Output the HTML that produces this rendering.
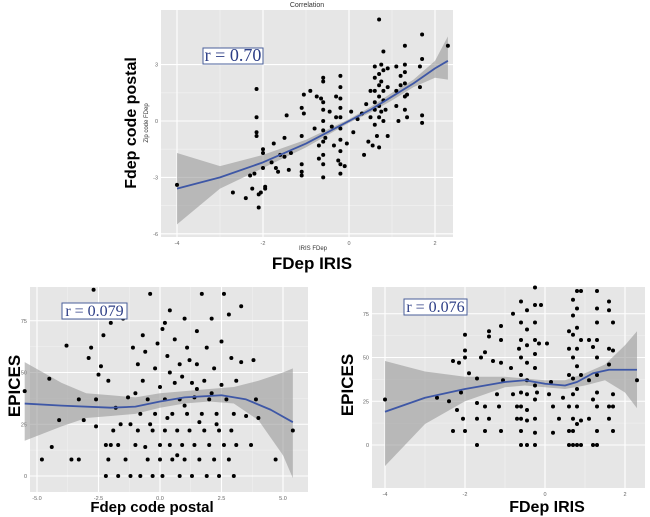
<!DOCTYPE html>
<html><head><meta charset="utf-8"><style>
body{margin:0;background:#fff;width:650px;height:517px;overflow:hidden}
svg{display:block}
text{font-family:"Liberation Sans",sans-serif}
text.serif{font-family:"Liberation Serif",serif}
</style></head><body>
<svg id="chart" width="650" height="517" viewBox="0 0 650 517" xmlns="http://www.w3.org/2000/svg"></svg>
<script>
// ---- Panel 1: Zip code FDep vs IRIS FDep
const p1X=[-4,-2.7,-2.4,-2.3,-2.25,-2.2,-2.15,-2.15,-2.15,-2.15,-2.1,-2.1,-2.05,-2,-2,-2,-1.95,-1.95,-1.8,-1.75,-1.7,-1.65,-1.6,-1.5,-1.5,-1.45,-1.4,-1.35,-1.1,-1.1,-1.1,-1.1,-1.1,-1.05,-1.05,-0.9,-0.8,-0.75,-0.7,-0.7,-0.65,-0.6,-0.6,-0.6,-0.6,-0.6,-0.6,-0.6,-0.6,-0.6,-0.6,-0.55,-0.45,-0.4,-0.35,-0.3,-0.3,-0.25,-0.2,-0.2,-0.2,-0.2,-0.2,-0.2,-0.2,-0.2,-0.2,-0.2,-0.1,-0.05,0.05,0.1,0.2,0.3,0.35,0.4,0.45,0.5,0.5,0.55,0.6,0.6,0.6,0.6,0.6,0.6,0.65,0.7,0.7,0.7,0.7,0.7,0.7,0.7,0.75,0.75,0.75,0.8,0.8,0.8,0.8,0.8,0.85,0.9,0.9,0.9,1.1,1.1,1.1,1.15,1.2,1.2,1.3,1.3,1.3,1.3,1.3,1.3,1.35,1.35,1.65,1.65,1.7,1.7,1.7,1.7,2.3];
const p1Y=[-3.4,-3.8,-4.1,-2.9,-3.6,-2.8,1.7,0.2,-0.6,-0.8,-3.9,-4.6,-3.8,-1.5,-1.7,-2.5,-3.5,-3.6,-2.2,-1.2,-2.5,-2.7,-1.8,-0.9,-1.9,0.3,-2.6,-1.7,0.7,-0.8,-2.3,-2.7,-2.9,1.4,0.4,1.6,-0.4,1.3,-1.3,-2.0,1.2,2.3,2.1,1.0,0.6,0.0,-0.5,-1.1,-1.8,-2.3,-3.0,-0.9,0.5,-0.3,-1.3,1.3,0.2,-2.1,2.4,1.8,1.2,0.7,0.2,-0.4,-1.0,-1.6,-2.3,-2.8,-2.4,-1.2,0.5,-0.6,0.1,0.4,-1.8,0.9,-1.1,0.2,1.6,-1.3,2.9,2.3,1.6,1.0,0.6,-0.2,-0.8,5.4,2.5,1.9,1.3,0.8,0.2,-1.4,3.0,2.1,0.5,3.7,2.7,1.6,1.1,0.0,0.6,2.8,1.8,-0.8,2.9,1.6,0.8,0.0,2.4,1.9,4.0,3.0,2.6,2.0,1.3,0.6,0.2,1.4,2.9,1.8,4.6,3.3,0.3,-0.1,4.0];
const p1FitX=[-4,-3,-2,-1,0,0.5,1,1.5,2,2.3];
const p1Fit=[-3.6,-3.0,-2.2,-1.2,0,0.6,1.3,2.0,2.8,3.2];
const p1Up=[-1.7,-2.4,-1.8,-1.0,0.1,0.75,1.5,2.2,3.2,4.5];
const p1Lo=[-5.5,-3.6,-2.5,-1.4,-0.1,0.45,1.1,1.8,2.3,2.2];
const p1XTicks=[-4,-2,0,2], p1XLab=["-4","-2","0","2"];
const p1YTicks=[-6,-3,0,3], p1YLab=["-6","-3","0","3"];

// ---- Panel 2: EPICES vs Fdep code postal
const p2X=[-5.5,-4.8,-4.5,-4.4,-4.1,-3.8,-3.6,-3.3,-3.1,-2.9,-2.8,-2.7,-2.6,-2.5,-2.4,-2.3,-2.2,-2.2,-2.1,-2.1,-2.0,-1.9,-1.7,-1.7,-1.6,-1.5,-1.4,-1.2,-1.2,-1.1,-1.0,-0.9,-0.9,-0.8,-0.8,-0.7,-0.7,-0.6,-0.5,-0.5,-0.4,-0.3,-0.3,-0.2,-0.2,-0.1,0,0,0,0.1,0.1,0.2,0.2,0.3,0.4,0.4,0.5,0.5,0.6,0.6,0.7,0.8,0.8,0.8,0.9,1.0,1.0,1.1,1.1,1.2,1.3,1.3,1.4,1.4,1.5,1.5,1.6,1.7,1.7,1.8,1.8,1.9,1.9,2.0,2.0,2.1,2.2,2.2,2.3,2.4,2.4,2.5,2.5,2.6,2.6,2.7,2.8,2.8,2.9,3.0,3.0,3.1,3.1,3.3,3.3,3.5,3.7,3.8,3.9,4.0,4.7,5.4,-0.4,0.3,0.9,1.2,-1.3,-1.8,0.7,1.6,2.1,-0.6,0.4,1.0,2.3,-1.0,0.2,1.5,2.9,-2.0,-3.3,-2.6];
const p2Y=[41,8,47,14,27,63,8,37,27,57,62,90,24,49,53,68,0,15,8,46,74,22,0,15,25,76,8,0,25,62,15,22,54,0,30,68,46,14,8,37,88,0,22,52,30,64,15,8,43,71,0,22,37,58,80,15,30,8,45,66,22,0,37,54,15,76,8,30,62,22,0,45,15,38,70,54,8,30,88,22,46,0,62,15,37,76,8,52,30,0,22,65,44,88,15,37,78,8,57,0,30,46,15,82,55,29,15,56,37,28,8,22,25,28,48,56,38,33,10,26,40,60,50,34,25,40,74,42,22,15,8,37];
const p2FitX=[-5.5,-4,-2,-1,0,1,2.5,3.5,4.5,5.4];
const p2Fit=[35,34,33,33.5,36,38,39,37,32,26];
const p2UpX=[-5.5,-4,-3,-2,-1,0,1,2,3,4,5,5.4];
const p2Up=[55,45,40,39,38,40,41,42,43,46,50,52];
const p2Lo=[17,24,28,29,30,33,35,36,35,27,10,-1];
const p2XTicks=[-5,-2.5,0,2.5,5], p2XLab=["-5.0","-2.5","0.0","2.5","5.0"];
const p2YTicks=[0,25,50,75], p2YLab=["0","25","50","75"];

// ---- Panel 3: EPICES vs FDep IRIS
const p3X=[-4,-2.7,-2.4,-2.3,-2.3,-2.2,-2.15,-2.1,-2.05,-2.0,-2.0,-2.0,-2.0,-1.9,-1.7,-1.7,-1.7,-1.7,-1.6,-1.5,-1.5,-1.5,-1.4,-1.4,-1.4,-1.3,-1.2,-1.15,-1.1,-1.1,-1.1,-1.1,-1.05,-0.85,-0.8,-0.8,-0.7,-0.7,-0.65,-0.6,-0.6,-0.6,-0.6,-0.6,-0.6,-0.6,-0.6,-0.6,-0.6,-0.45,-0.45,-0.45,-0.45,-0.45,-0.45,-0.45,-0.45,-0.45,-0.25,-0.25,-0.25,-0.25,-0.25,-0.25,-0.25,-0.25,-0.25,-0.25,-0.25,-0.1,-0.15,-0.2,0.05,0.1,0.15,0.2,0.2,0.35,0.45,0.6,0.6,0.6,0.6,0.6,0.6,0.7,0.7,0.7,0.7,0.7,0.7,0.7,0.7,0.7,0.8,0.8,0.8,0.8,0.8,0.8,0.8,0.8,0.8,0.9,0.9,0.9,0.9,0.9,1.1,1.1,1.1,1.2,1.2,1.2,1.3,1.3,1.3,1.3,1.3,1.3,1.3,1.3,1.3,1.3,1.6,1.6,1.6,1.6,1.6,1.6,1.7,1.7,1.7,1.7,1.7,2.3];
const p3Y=[26,27,25,48,8,20,47,30,15,63,54,50,8,41,0,38,24,15,50,53,22,8,65,62,15,48,29,22,68,60,47,8,37,44,75,29,22,15,55,82,70,60,50,40,30,22,15,8,0,77,66,57,47,37,29,20,14,0,90,80,70,60,52,44,34,26,15,7,0,80,58,30,58,29,36,22,7,15,27,65,55,40,22,8,0,83,74,63,50,38,29,15,8,0,88,78,67,55,45,32,22,12,0,88,60,40,14,0,60,37,15,56,26,0,88,78,70,60,50,40,30,22,8,0,82,77,55,46,22,15,70,54,29,22,8,37];
const p3FitX=[-4,-3,-2,-1,-0.5,0,0.5,0.8,1.2,1.6,2.3];
const p3Fit=[19,27,32,36,37,35,34,36,41,43,43];
const p3BandX=[-4,-3,-2,-1,-0.5,0,0.5,1,1.5,2,2.3];
const p3Up=[48,42,39,39,38,37,37,41,46,57,65];
const p3Lo=[-12,12,25,33,34,33,32,34,37,30,21];
const p3XTicks=[-4,-2,0,2], p3XLab=["-4","-2","0","2"];
const p3YTicks=[0,25,50,75], p3YLab=["0","25","50","75"];

const NS="http://www.w3.org/2000/svg";
const svg=document.getElementById('chart');
function mk(tag,attrs,parent,txt){const e=document.createElementNS(NS,tag);for(const k in attrs)e.setAttribute(k,attrs[k]);if(txt!==undefined)e.textContent=txt;(parent||svg).appendChild(e);return e;}

function panel(name,box,x0,sx,y0,sy,xt,xl,yt,yl,px,py,fx,fy,bx,bu,bl){
  const xs=v=>x0+sx*v, ys=v=>y0-sy*v;
  const g=mk('g',{});
  
  
  const bg=mk('rect',{x:box[0],y:box[1],width:box[2]-box[0],height:box[3]-box[1],fill:'#e6e6e6'},g);
  
  
  for(let i=0;i<xt.length-1;i++){const m=xs((xt[i]+xt[i+1])/2);mk('line',{x1:m,x2:m,y1:box[1],y2:box[3],stroke:'#f2f2f2','stroke-width':0.6},g);}
  for(let i=0;i<yt.length-1;i++){const m=ys((yt[i]+yt[i+1])/2);mk('line',{x1:box[0],x2:box[2],y1:m,y2:m,stroke:'#f2f2f2','stroke-width':0.6},g);}
  xt.forEach((t,i)=>{const X=xs(t);
    const gl=mk('line',{x1:X,x2:X,y1:box[1],y2:box[3],stroke:'#fff','stroke-width':1.1},g);
    
    
    const tl=mk('text',{x:X,y:box[3]+8,'font-size':5.5,fill:'#666','text-anchor':'middle'},g,xl[i]);
    
    
  });
  yt.forEach((t,i)=>{const Y=ys(t);
    const gl=mk('line',{x1:box[0],x2:box[2],y1:Y,y2:Y,stroke:'#fff','stroke-width':1.1},g);
    
    
    const tl=mk('text',{x:box[0]-3,y:Y+2,'font-size':5.5,fill:'#666','text-anchor':'end'},g,yl[i]);
    
    
  });
  const up=bx.map((v,i)=>xs(v)+','+ys(bu[i]));
  const lo=bx.map((v,i)=>xs(v)+','+ys(bl[i])).reverse();
  const band=mk('polygon',{points:up.concat(lo).join(' '),fill:'#999','fill-opacity':0.6},g);
  
  
  px.forEach((v,i)=>{
    const c=mk('circle',{cx:xs(v),cy:ys(py[i]),r:2,fill:'#000'},g);
    
    
  });
  const fit=mk('polyline',{points:fx.map((v,i)=>xs(v)+','+ys(fy[i])).join(' '),fill:'none',stroke:'#3e57a6','stroke-width':1.8,'stroke-linejoin':'round'},g);
  
  
}

panel('zip-vs-iris',[161,10,453,237],349,43,121,18.8,p1XTicks,p1XLab,p1YTicks,p1YLab,p1X,p1Y,p1FitX,p1Fit,p1FitX,p1Up,p1Lo);
panel('epices-vs-postal',[30,287,308,492],160,24.6,476,2.07,p2XTicks,p2XLab,p2YTicks,p2YLab,p2X,p2Y,p2FitX,p2Fit,p2UpX,p2Up,p2Lo);
panel('epices-vs-iris',[372,287,645,488],545,40,445,1.75,p3XTicks,p3XLab,p3YTicks,p3YLab,p3X,p3Y,p3FitX,p3Fit,p3BandX,p3Up,p3Lo);

function label(txt,attrs,nm){const t=mk('text',attrs,svg,txt);return t;}
label('Correlation',{x:307,y:7,'font-size':7,fill:'#333','text-anchor':'middle'},'chart-title');
label('Zip code FDep',{x:0,y:0,'font-size':6,fill:'#333','text-anchor':'middle',transform:'translate(148,123) rotate(-90)'},'y-axis-title-small');
label('Fdep code postal',{x:0,y:0,'font-size':16,fill:'#000','font-weight':'600','text-anchor':'middle',transform:'translate(136,123) rotate(-90)'},'y-axis-title');
label('IRIS FDep',{x:313,y:250,'font-size':6,fill:'#333','text-anchor':'middle'},'x-axis-title-small');
label('FDep IRIS',{x:312,y:269,'font-size':17,fill:'#000','font-weight':'600','text-anchor':'middle'},'x-axis-title');
label('EPICES',{x:0,y:0,'font-size':17,fill:'#000','font-weight':'600','text-anchor':'middle',transform:'translate(20,386) rotate(-90)'},'y-axis-title-left');
label('Fdep code postal',{x:152,y:512,'font-size':15,fill:'#000','font-weight':'600','text-anchor':'middle'},'x-axis-title-left');
label('EPICES',{x:0,y:0,'font-size':17,fill:'#000','font-weight':'600','text-anchor':'middle',transform:'translate(353,385) rotate(-90)'},'y-axis-title-right');
label('FDep IRIS',{x:547,y:512,'font-size':16,fill:'#000','font-weight':'600','text-anchor':'middle'},'x-axis-title-right');

function rbox(x,y,w,h,fs,txt,nm){
  const r=mk('rect',{x:x,y:y,width:w,height:h,fill:'#fff',stroke:'#4a5f9a','stroke-width':1});
  
  
  const t=mk('text',{x:x+w/2,y:y+h-3,'font-size':fs,fill:'#2d3e86','text-anchor':'middle',class:'serif'},svg,txt);
  
  
}
rbox(203,48,60,16,18,'r = 0.70','r-label-top');
rbox(62,303,65,16,16,'r = 0.079','r-label-left');
rbox(404,299,63,16,16,'r = 0.076','r-label-right');
</script>
</body></html>
